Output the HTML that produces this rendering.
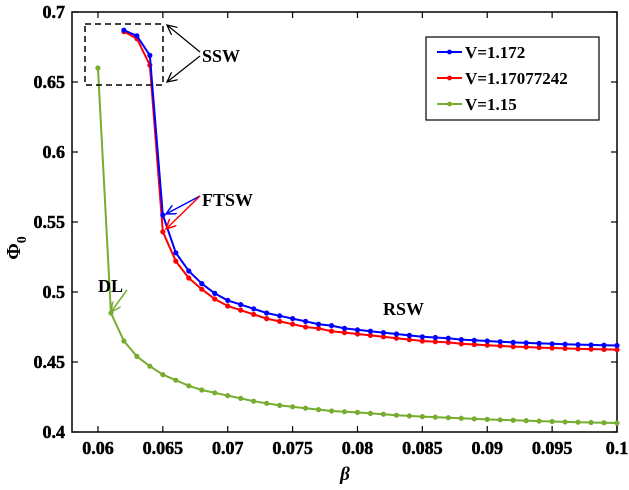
<!DOCTYPE html>
<html><head><meta charset="utf-8"><style>
body{margin:0;background:#fff}
svg text{font-family:"Liberation Serif",serif;font-weight:700}
</style></head><body>
<svg id="chart" width="629" height="485" viewBox="0 0 629 485">
<defs>
<marker id="ak" markerWidth="12" markerHeight="10" refX="10" refY="5" orient="auto" markerUnits="userSpaceOnUse"><path d="M0,0 L10,5 L0,10" fill="none" stroke="#000" stroke-width="1.3"/></marker>
<marker id="ab" markerWidth="12" markerHeight="10" refX="10" refY="5" orient="auto" markerUnits="userSpaceOnUse"><path d="M0,0 L10,5 L0,10" fill="none" stroke="#0000ff" stroke-width="1.5"/></marker>
<marker id="ar" markerWidth="12" markerHeight="10" refX="10" refY="5" orient="auto" markerUnits="userSpaceOnUse"><path d="M0,0 L10,5 L0,10" fill="none" stroke="#ff0000" stroke-width="1.5"/></marker>
<marker id="ag" markerWidth="12" markerHeight="10" refX="10" refY="5" orient="auto" markerUnits="userSpaceOnUse"><path d="M0,0 L10,5 L0,10" fill="none" stroke="#77ac30" stroke-width="1.5"/></marker>
</defs>
<g id="plot"></g>
</svg>
<script>
const betaBlue=[0.062,0.063,0.064,0.065,0.066,0.067,0.068,0.069,0.070,0.071,0.072,0.073,0.074,0.075,0.076,0.077,0.078,0.079,0.080,0.081,0.082,0.083,0.084,0.085,0.086,0.087,0.088,0.089,0.090,0.091,0.092,0.093,0.094,0.095,0.096,0.097,0.098,0.099,0.100];
const phiBlue=[0.687,0.683,0.669,0.555,0.528,0.515,0.506,0.499,0.494,0.491,0.488,0.485,0.483,0.481,0.479,0.477,0.476,0.474,0.473,0.472,0.471,0.470,0.469,0.468,0.4675,0.467,0.466,0.4655,0.465,0.4645,0.464,0.4637,0.4633,0.463,0.4627,0.4624,0.4622,0.462,0.4618];
const phiRed=[0.686,0.681,0.662,0.543,0.522,0.510,0.502,0.495,0.490,0.487,0.484,0.481,0.479,0.477,0.475,0.474,0.472,0.471,0.470,0.469,0.468,0.467,0.466,0.465,0.4645,0.464,0.463,0.4625,0.462,0.4615,0.461,0.4607,0.4603,0.460,0.4597,0.4594,0.4592,0.459,0.4588];
const betaGreen=[0.060,0.061].concat(betaBlue);
const phiGreen=[0.660,0.485,0.465,0.454,0.447,0.441,0.437,0.433,0.430,0.428,0.426,0.424,0.422,0.4205,0.419,0.418,0.417,0.416,0.415,0.4145,0.414,0.4133,0.4127,0.412,0.4115,0.411,0.4106,0.4102,0.4098,0.4094,0.409,0.4087,0.4084,0.4081,0.4078,0.4075,0.4072,0.407,0.4068,0.4066,0.4064];
const xTicks=[0.06,0.065,0.07,0.075,0.08,0.085,0.09,0.095,0.1];
const xTickLabels=["0.06","0.065","0.07","0.075","0.08","0.085","0.09","0.095","0.1"];
const yTicks=[0.4,0.45,0.5,0.55,0.6,0.65,0.7];
const yTickLabels=["0.4","0.45","0.5","0.55","0.6","0.65","0.7"];
const legendLabels=["V=1.172","V=1.17077242","V=1.15"];

const X0=72,X1=617,Y0=432,Y1=12,xmin=0.058,xmax=0.1,ymin=0.4,ymax=0.7;
const xs=v=>X0+(v-xmin)/(xmax-xmin)*(X1-X0);
const ys=v=>Y0-(v-ymin)/(ymax-ymin)*(Y0-Y1);
const NS="http://www.w3.org/2000/svg";
const g=document.getElementById('plot');
function mk(t,a,p){const e=document.createElementNS(NS,t);for(const k in a)e.setAttribute(k,a[k]);(p||g).appendChild(e);return e;}

let e=mk('rect',{x:X0,y:Y1,width:X1-X0,height:Y0-Y1,fill:'none',stroke:'#000','stroke-width':1.5});


xTicks.forEach((t,i)=>{const x=xs(t);
 mk('line',{x1:x,y1:Y0,x2:x,y2:Y0-6,stroke:'#000','stroke-width':1.2});
 mk('line',{x1:x,y1:Y1,x2:x,y2:Y1+6,stroke:'#000','stroke-width':1.2});
 const tx=mk('text',{x:x,y:Y0+22,'text-anchor':'middle','font-size':18,'font-weight':'bold',stroke:'#000','stroke-width':0.5});tx.textContent=xTickLabels[i];
 
 
});
yTicks.forEach((t,i)=>{const y=ys(t);
 mk('line',{x1:X0,y1:y,x2:X0+6,y2:y,stroke:'#000','stroke-width':1.2});
 mk('line',{x1:X1,y1:y,x2:X1-6,y2:y,stroke:'#000','stroke-width':1.2});
 const tx=mk('text',{x:X0-7,y:y+6,'text-anchor':'end','font-size':18,'font-weight':'bold',stroke:'#000','stroke-width':0.5});tx.textContent=yTickLabels[i];
 
 
});

function series(bx,by,col,name){
 const grp=mk('g',{});
 
 
 mk('polyline',{points:bx.map((b,i)=>xs(b)+','+ys(by[i])).join(' '),fill:'none',stroke:col,'stroke-width':2},grp);
 bx.forEach((b,i)=>{const c=mk('circle',{cx:xs(b),cy:ys(by[i]),r:2.6,fill:col},grp);
  
  });
}
series(betaGreen,phiGreen,'#77ac30','series-v1-15');
series(betaBlue,phiRed,'#ff0000','series-v1-17077242');
series(betaBlue,phiBlue,'#0000ff','series-v1-172');

e=mk('rect',{x:85,y:24,width:78,height:61,fill:'none',stroke:'#000','stroke-width':1.5,'stroke-dasharray':'6,4'});


mk('line',{x1:200,y1:52,x2:167,y2:25,stroke:'#000','stroke-width':1.2,'marker-end':'url(#ak)'});
mk('line',{x1:200,y1:56,x2:167,y2:82,stroke:'#000','stroke-width':1.2,'marker-end':'url(#ak)'});
mk('line',{x1:200,y1:196,x2:166,y2:214,stroke:'#0000ff','stroke-width':1.5,'marker-end':'url(#ab)'});
mk('line',{x1:200,y1:196,x2:166,y2:229,stroke:'#ff0000','stroke-width':1.5,'marker-end':'url(#ar)'});
mk('line',{x1:127,y1:290,x2:111,y2:312,stroke:'#77ac30','stroke-width':1.5,'marker-end':'url(#ag)'});
[['SSW',202,62,'ssw-label'],['FTSW',202,206,'ftsw-label'],['DL',98,292,'dl-label'],['RSW',383,315,'rsw-label']].forEach(a=>{
 const t=mk('text',{x:a[1],y:a[2],'font-size':18,'font-weight':'bold'});t.textContent=a[0];
 
 });

e=mk('text',{x:345,y:480,'text-anchor':'middle','font-size':19,'font-style':'italic','font-weight':'bold'});e.textContent='β';


e=mk('text',{x:0,y:0,'font-size':20,'font-weight':'bold',transform:'translate(20,248) rotate(-90)','text-anchor':'middle'});
e.innerHTML='Φ<tspan dy="6" font-size="14">0</tspan>';



const lg=mk('g',{});


mk('rect',{x:426,y:37,width:173,height:83,fill:'#fff',stroke:'#000','stroke-width':1.2},lg);
const cols=['#0000ff','#ff0000','#77ac30'];
legendLabels.forEach((l,i)=>{const y=52+i*26;
 const en=mk('g',{},lg);
 
 
 mk('line',{x1:437,y1:y,x2:462,y2:y,stroke:cols[i],'stroke-width':2},en);
 mk('circle',{cx:449.5,cy:y,r:2.4,fill:cols[i]},en);
 const t=mk('text',{x:465,y:y+6,'font-size':17,'font-weight':'bold'},en);t.textContent=l;});
</script>
</body></html>
